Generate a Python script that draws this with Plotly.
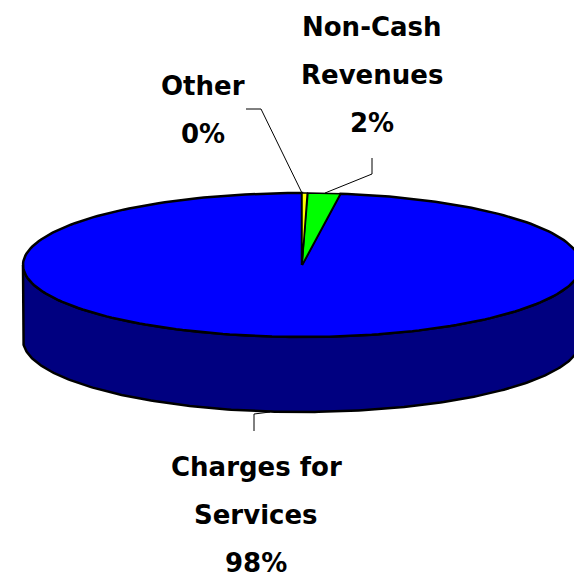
import numpy as np
import plotly.graph_objects as go

# Revenue shares, in percent, clockwise from twelve o'clock
categories = ["Other", "Non-Cash Revenues", "Charges for Services"]
shares = [0.3, 1.9, 97.8]
slice_colors = ["#FFFF00", "#00FF00", "#0000FF"]
wall_color = "#000080"

# One text line per row of each label; the last row carries the rounded share
label_rows = [["Other"], ["Non-Cash", "Revenues"], ["Charges for", "Services"]]

WIDTH, HEIGHT = 574, 577
CX, CY = 302, 265      # disc centre on the page
RADIUS = 279           # horizontal radius, page units
TILT = 72 / RADIUS     # vertical squash of the disc
DEPTH = 75 / RADIUS    # thickness of the disc


def page_x(px):
    return (px - CX) / RADIUS


def page_y(py):
    return (CY - py) / RADIUS


def rim(a0, a1, n=240, drop=0.0):
    t = np.linspace(a0, a1, n)
    return np.sin(t), TILT * np.cos(t) - drop


fig = go.Figure()

# Side wall of the disc: only the front half is visible
xt, yt = rim(np.pi / 2, 3 * np.pi / 2)
xb, yb = rim(3 * np.pi / 2, np.pi / 2, drop=DEPTH)
fig.add_trace(go.Scatter(
    x=np.r_[xt, xb, xt[0]], y=np.r_[yt, yb, yt[0]],
    mode="lines", fill="toself", fillcolor=wall_color,
    line=dict(color="black", width=2.5), hoverinfo="skip", showlegend=False,
))

# Top face wedges, drawn from the shares; largest first so the thin ones stay on top
edges = 2 * np.pi * np.cumsum([0] + shares) / sum(shares)
for i in reversed(range(len(shares))):
    xs, ys = rim(edges[i], edges[i + 1])
    fig.add_trace(go.Scatter(
        x=np.r_[0, xs, 0], y=np.r_[0, ys, 0],
        mode="lines", fill="toself", fillcolor=slice_colors[i],
        line=dict(color="black", width=2.5 if i == 2 else 1.5),
        name=categories[i], showlegend=False,
    ))

# Leader lines from the labels to the disc
leaders = [
    ([246, 261, 302], [109, 109, 193]),
    ([372, 372, 325], [158, 174, 193]),
    ([254, 254, 270], [431, 414, 412]),
]
for lx, ly in leaders:
    fig.add_trace(go.Scatter(
        x=[page_x(v) for v in lx], y=[page_y(v) for v in ly],
        mode="lines", line=dict(color="black", width=1),
        hoverinfo="skip", showlegend=False,
    ))

# Label rows, centred on each label's own column
label_centres = [203, 372, 256]
label_tops = [86, 27, 467]
ROW_STEP = 48
annotations = []
for rows, share, cx, top in zip(label_rows, shares, label_centres, label_tops):
    for k, text in enumerate(rows + [f"{round(share)}%"]):
        annotations.append(dict(
            x=page_x(cx), y=page_y(top + k * ROW_STEP), text=f"<b>{text}</b>",
            showarrow=False, xanchor="center", yanchor="middle",
            font=dict(family="Comic Sans MS, DejaVu Sans, sans-serif", size=26, color="black"),
        ))

fig.update_layout(
    width=WIDTH, height=HEIGHT,
    margin=dict(l=0, r=0, t=0, b=0),
    paper_bgcolor="white", plot_bgcolor="white",
    xaxis=dict(range=[page_x(0), page_x(WIDTH)], visible=False, fixedrange=True),
    yaxis=dict(range=[page_y(HEIGHT), page_y(0)], visible=False, fixedrange=True),
    annotations=annotations,
)
fig.write_html("out.html", config={"displayModeBar": False})
